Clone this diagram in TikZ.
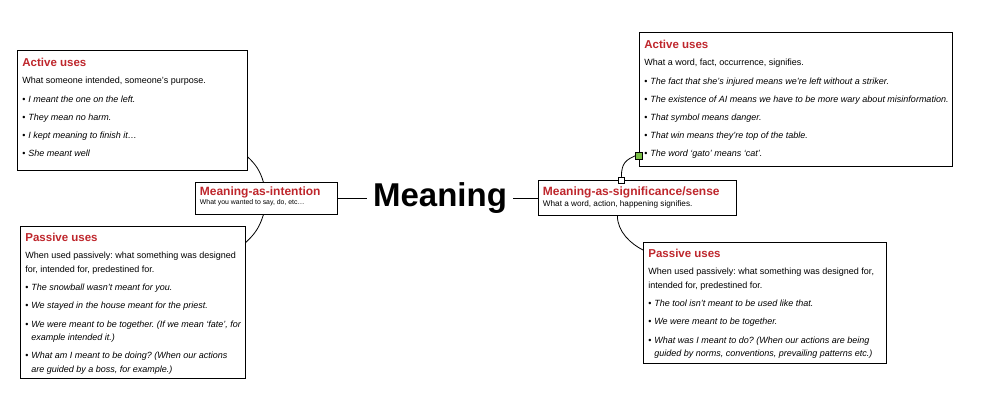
\documentclass[tikz,border=0pt]{standalone}
\usepackage{fontspec}
\setmainfont{Liberation Sans}
\usetikzlibrary{calc}
\definecolor{titlered}{RGB}{190,38,44}
\definecolor{handlegreen}{RGB}{122,190,70}
\setlength{\parindent}{0pt}
\frenchspacing
\newcommand{\boxtitle}[1]{{\leavevmode\color{titlered}\bfseries\fontsize{11.5}{14}\selectfont #1\par}\vspace{4pt}}
\newcommand{\boxline}[1]{\par\mbox{#1}}
\newcommand{\usecase}[1]{\par\vspace{4.7pt}\mbox{\makebox[6pt][l]{\textbullet}\textit{#1}}}
\newcommand{\usecont}[1]{\par\mbox{\hspace{6pt}\textit{#1}}}
\newcommand{\branchtitle}[1]{{\leavevmode\color{titlered}\bfseries\fontsize{12}{14}\selectfont #1\par}}
\begin{document}
\begin{tikzpicture}[x=1pt,y=-1pt,
  usesbox/.style={draw,line width=0.8pt,anchor=north west,inner xsep=5pt,inner ysep=0pt,
    align=flush left,font=\fontsize{9}{13.5}\selectfont,text height=16pt},
  branchbox/.style={draw,line width=0.8pt,anchor=north west,inner xsep=4.5pt,inner ysep=0pt,align=flush left},
  handle/.style={draw,line width=0.5pt,minimum size=6pt,inner sep=0pt},
  link/.style={line width=0.8pt}]
\useasboundingbox (0,0) rectangle (984,412);

\node[font=\bfseries\fontsize{33}{38}\selectfont,anchor=base,inner sep=6pt] (meaning) at (440,206) {Meaning};

% left branch
\node[branchbox,text width=133pt,text height=13pt,text depth=19pt] (intention) at (195,182)
  {\branchtitle{Meaning-as-intention}{\fontsize{6.9}{9.5}\selectfont What you wanted to say, do, etc…\par}};

\node[usesbox,text width=220pt,text depth=104pt] (intactive) at (17,50) {%
  \boxtitle{Active uses}
  \boxline{What someone intended, someone’s purpose.}
  \usecase{I meant the one on the left.}
  \usecase{They mean no harm.}
  \usecase{I kept meaning to finish it…}
  \usecase{She meant well}};

\node[usesbox,text width=215pt,text height=15pt,text depth=137pt] (intpassive) at (20,226) {%
  \boxtitle{Passive uses}
  \boxline{When used passively: what something was designed}
  \boxline{for, intended for, predestined for.}
  \usecase{The snowball wasn’t meant for you.}
  \usecase{We stayed in the house meant for the priest.}
  \usecase{We were meant to be together. (If we mean ‘fate’, for}
  \usecont{example intended it.)}
  \usecase{What am I meant to be doing? (When our actions}
  \usecont{are guided by a boss, for example.)}};

% right branch
\node[branchbox,text width=189pt,text height=15pt,text depth=20pt] (sig) at (538,180)
  {\branchtitle{Meaning-as-significance/sense}{\fontsize{8.2}{11}\selectfont What a word, action, happening signifies.\par}};

\node[usesbox,text width=303pt,text depth=118pt] (sigactive) at (639,32) {%
  \boxtitle{Active uses}
  \boxline{What a word, fact, occurrence, signifies.}
  \usecase{The fact that she’s injured means we’re left without a striker.}
  \usecase{The existence of AI means we have to be more wary about misinformation.}
  \usecase{That symbol means danger.}
  \usecase{That win means they’re top of the table.}
  \usecase{The word ‘gato’ means ‘cat’.}};

\node[usesbox,text width=233pt,text height=15pt,text depth=106pt] (sigpassive) at (643,242) {%
  \boxtitle{Passive uses}
  \boxline{When used passively: what something was designed for,}
  \boxline{intended for, predestined for.}
  \usecase{The tool isn’t meant to be used like that.}
  \usecase{We were meant to be together.}
  \usecase{What was I meant to do? (When our actions are being}
  \usecont{guided by norms, conventions, prevailing patterns etc.)}};

\node[handle,fill=white] (sighandle) at ($(sig.north)+(-16,0)$) {};
\node[handle,fill=handlegreen,minimum size=7pt] (acthandle) at ($(sigactive.south west)+(0,-11)$) {};

% connectors
\draw[link] (intention.east) -- (intention.east -| meaning.west);
\draw[link] (meaning.east |- sig.west) -- (sig.west);
\draw[link] (intactive.-22) to[bend left=15] ($(intention.north)+(-3,0)$);
\draw[link] ($(intention.south)+(-3,0)$) to[bend left=15] (intpassive.28);
\draw[link] (sighandle.north) .. controls +(0,-14) and +(-9,4) .. (acthandle.west);
\draw[link] ($(sig.south)+(-20,0)$) .. controls +(0,16) and +(-12,-6) .. ($(sigpassive.north west)+(0,8)$);
\end{tikzpicture}
\end{document}
